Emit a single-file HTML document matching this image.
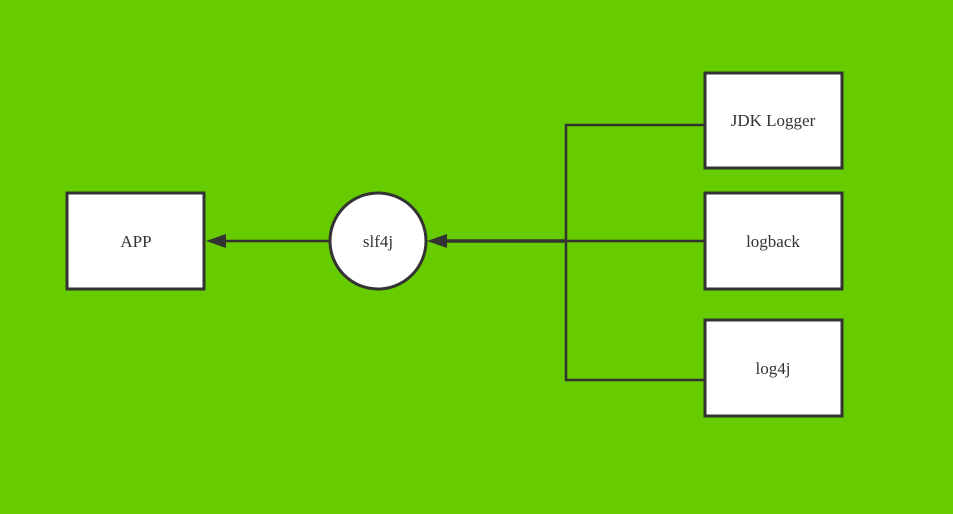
<!DOCTYPE html>
<html><head><style>html,body{margin:0;padding:0;background:#66cc00;}</style></head>
<body>
<svg width="953" height="514" xmlns="http://www.w3.org/2000/svg" style="display:block">
<rect width="953" height="514" fill="#66cc00"/>
<g stroke="#333" stroke-width="3" fill="#fff">
<rect x="67" y="193" width="137" height="96"/>
<rect x="705" y="73" width="137" height="95"/>
<rect x="705" y="193" width="137" height="96"/>
<rect x="705" y="320" width="137" height="96"/>
<circle cx="378" cy="241" r="48"/>
</g>
<g stroke="#333" stroke-width="2.5" fill="none">
<line x1="330" y1="241" x2="220" y2="241"/>
<polyline points="705,125 566,125 566,380 705,380"/>
<line x1="705" y1="241" x2="440" y2="241"/>
</g>
<line x1="566" y1="241" x2="440" y2="241" stroke="#333" stroke-width="3.5"/>
<polygon points="206,241 226,234 226,248" fill="#333"/>
<polygon points="427,241 447,234 447,248" fill="#333"/>
<g font-family="Liberation Serif, serif" font-size="17" fill="#333" text-anchor="middle">
<text x="136" y="247">APP</text>
<text x="378" y="247">slf4j</text>
<text x="773" y="126">JDK Logger</text>
<text x="773" y="247">logback</text>
<text x="773" y="374">log4j</text>
</g>
</svg>
</body></html>
